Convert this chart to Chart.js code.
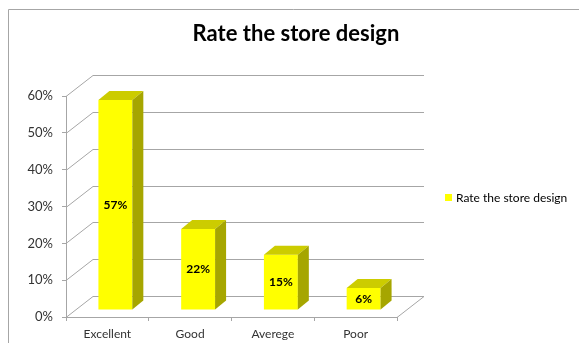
<!DOCTYPE html>
<html>
<head>
<meta charset="utf-8">
<script src="https://cdn.jsdelivr.net/npm/chart.js@4"></script>
<style>
  html, body { margin: 0; background: #fff; }
  #wrap { width: 579px; height: 343px; }
</style>
</head>
<body>
<div id="wrap"><canvas id="storeBar"></canvas></div>
<script>
const categories = ['Excellent', 'Good', 'Averege', 'Poor'];
const ratings = [57, 22, 15, 6];
const yTicks = [0, 10, 20, 30, 40, 50, 60];
const seriesName = 'Rate the store design';
const chartTitle = 'Rate the store design';

// 3d box: wall depth, bar offset inside the box, bar depth
const DEPTH = { x: 27, y: -21 };
const BAR_SHIFT = { x: 8, y: -7 };
const BAR_DEPTH = { x: 11, y: -9 };

const FONT = 'Lato, "Open Sans", sans-serif';
const GRID = '#a6a6a6';
const TEXT = '#333333';

const box3d = {
    id: 'box3d',
    beforeDraw(chart) {
        const { ctx, chartArea: a, scales: { y } } = chart;
        ctx.save();
        // chart frame
        ctx.strokeStyle = '#a6a6a6';
        ctx.lineWidth = 1;
        ctx.beginPath();
        ctx.moveTo(8.5, 343);
        ctx.lineTo(8.5, 9.5);
        ctx.lineTo(579, 9.5);
        ctx.stroke();
        // side wall + back wall gridlines
        ctx.strokeStyle = GRID;
        ctx.beginPath();
        yTicks.forEach(v => {
            const py = Math.round(y.getPixelForValue(v)) + 0.5;
            ctx.moveTo(a.left, py);
            ctx.lineTo(a.left + DEPTH.x, py + DEPTH.y);
            ctx.lineTo(a.right + DEPTH.x, py + DEPTH.y);
        });
        // floor right edge
        const py0 = Math.round(y.getPixelForValue(0)) + 0.5;
        ctx.moveTo(a.right, py0);
        ctx.lineTo(a.right + DEPTH.x, py0 + DEPTH.y);
        ctx.stroke();
        ctx.restore();
    },
    beforeDatasetsDraw(chart) {
        chart.ctx.save();
        chart.ctx.translate(BAR_SHIFT.x, BAR_SHIFT.y);
    },
    afterDatasetsDraw(chart) {
        const ctx = chart.ctx;
        chart.getDatasetMeta(0).data.forEach((bar, i) => {
            const { x: cx, y: top, base, width } = bar.getProps(['x', 'y', 'base', 'width'], true);
            const l = cx - width / 2, r = cx + width / 2;
            // top face
            ctx.fillStyle = '#cccc00';
            ctx.beginPath();
            ctx.moveTo(l, top);
            ctx.lineTo(l + BAR_DEPTH.x, top + BAR_DEPTH.y);
            ctx.lineTo(r + BAR_DEPTH.x, top + BAR_DEPTH.y);
            ctx.lineTo(r, top);
            ctx.closePath();
            ctx.fill();
            // side face
            ctx.fillStyle = '#a6a600';
            ctx.beginPath();
            ctx.moveTo(r, top);
            ctx.lineTo(r + BAR_DEPTH.x, top + BAR_DEPTH.y);
            ctx.lineTo(r + BAR_DEPTH.x, base + BAR_DEPTH.y);
            ctx.lineTo(r, base);
            ctx.closePath();
            ctx.fill();
            // value label
            ctx.fillStyle = '#000';
            ctx.font = 'bold 12px ' + FONT;
            ctx.textAlign = 'center';
            ctx.textBaseline = 'middle';
            ctx.fillText(ratings[i] + '%', cx, (top + base) / 2);
        });
        ctx.restore();
    },
    afterDraw(chart) {
        const ctx = chart.ctx;
        ctx.save();
        ctx.fillStyle = '#000';
        ctx.font = 'bold 22px ' + FONT;
        ctx.textAlign = 'center';
        ctx.textBaseline = 'middle';
        ctx.fillText(chartTitle, 296, 34);
        // legend
        ctx.fillStyle = '#ffff00';
        ctx.fillRect(445, 194, 7, 7);
        ctx.fillStyle = '#000';
        ctx.font = '12px ' + FONT;
        ctx.textAlign = 'left';
        ctx.fillText(seriesName, 456, 198);
        ctx.restore();
    }
};

new Chart(document.getElementById('storeBar'), {
    type: 'bar',
    data: {
        labels: categories,
        datasets: [{
            label: seriesName,
            data: ratings,
            backgroundColor: '#ffff00',
            borderWidth: 0,
            categoryPercentage: 1,
            barPercentage: 0.41
        }]
    },
    options: {
        responsive: true,
        maintainAspectRatio: false,
        animation: false,
        layout: { padding: { top: 96, right: 182, bottom: 0, left: 0 } },
        plugins: {
            legend: { display: false },
            title: { display: false },
            tooltip: { enabled: false }
        },
        scales: {
            x: {
                grid: { drawOnChartArea: false, drawTicks: true, tickLength: 4, color: GRID },
                border: { color: GRID },
                ticks: { font: { family: FONT, size: 12 }, color: TEXT, padding: 6 },
                afterFit(scale) { scale.height = 26; }
            },
            y: {
                min: 0,
                max: 60,
                grid: { drawOnChartArea: false, drawTicks: true, tickLength: 4, color: GRID },
                border: { color: GRID },
                ticks: {
                    stepSize: 10,
                    font: { family: FONT, size: 13 },
                    color: TEXT,
                    padding: 9,
                    callback: v => v + '%'
                },
                afterFit(scale) { scale.width = 66; }
            }
        }
    },
    plugins: [box3d]
});
</script>
</body>
</html>
